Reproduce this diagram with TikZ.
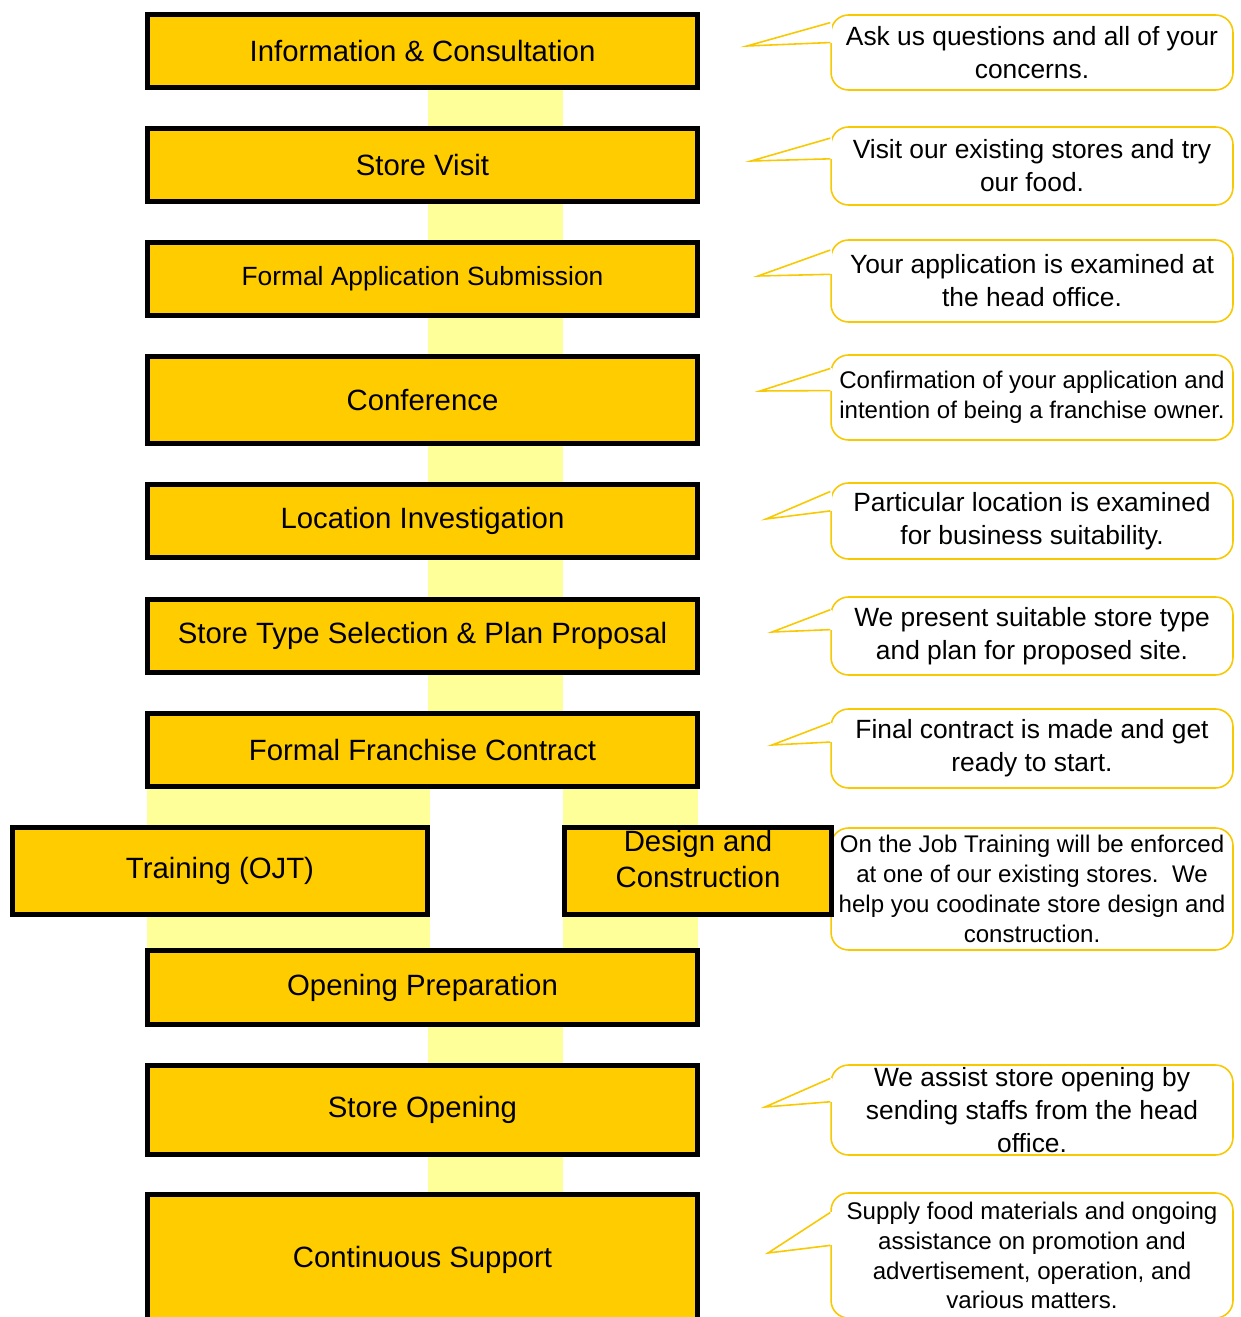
\documentclass[tikz,border=0pt]{standalone}
\usepackage{fontspec}
\setmainfont{Liberation Sans}
\usetikzlibrary{calc,backgrounds}

\definecolor{boxyellow}{HTML}{FFCC00}
\definecolor{barlemon}{HTML}{FFFF99}
\definecolor{notegold}{HTML}{F8C800}

% tail of a note: note name, tip coordinate, start and end (fraction of the left side)
\newcommand{\notetail}[4]{%
  \draw[white, line width=2pt] ($(#1.north west)!#3!(#1.south west)$) -- ($(#1.north west)!#4!(#1.south west)$);
  \draw[tailline] ($(#1.north west)!#3!(#1.south west)$) -- (#2) -- ($(#1.north west)!#4!(#1.south west)$);
}

\begin{document}
\begin{tikzpicture}[x=0.02cm, y=-0.02cm,
    stage/.style={draw, line width=0.1cm, fill=boxyellow, inner sep=0pt, align=center,
      minimum width=11cm, minimum height=1.46cm, font=\fontsize{16.7}{20.5}\selectfont},
    note/.style={draw=notegold, line width=0.9pt, fill=white, rounded corners=0.35cm, inner sep=0pt,
      align=center, minimum width=8.04cm, font=\fontsize{15}{18.7}\selectfont},
    small/.style={font=\fontsize{13.7}{17}\selectfont},
    bar/.style={barlemon, line width=2.7cm},
    tailline/.style={draw=notegold, line width=0.9pt, line join=miter}]
    \useasboundingbox (0,0) rectangle (1240,1317);

    % notes on the right
    \node[note, minimum height=1.5cm] (n1) at (1032,52.5) {Ask us questions and all of your\\concerns.};
    \node[note, minimum height=1.56cm] (n2) at (1032,166) {Visit our existing stores and try\\our food.};
    \node[note, minimum height=1.64cm] (n3) at (1032,281) {Your application is examined at\\the head office.};
    \node[note, small, minimum height=1.7cm] (n4) at (1032,397.5) {Confirmation of your application and\\intention of being a franchise owner.};
    \node[note, minimum height=1.52cm] (n5) at (1032,521) {Particular location is examined\\for business suitability.};
    \node[note, minimum height=1.56cm] (n6) at (1032,636) {We present suitable store type\\and plan for proposed site.};
    \node[note, minimum height=1.58cm] (n7) at (1032,748.5) {Final contract is made and get\\ready to start.};
    \node[note, small, minimum height=2.44cm] (n8) at (1032,889) {On the Job Training will be enforced\\at one of our existing stores.~~We\\help you coodinate store design and\\construction.};
    \node[note, minimum height=1.8cm] (n9) at (1032,1110) {We assist store opening by\\sending staffs from the head\\office.};
    \node[note, small, minimum height=2.5cm] (n10) at (1032,1255.5) {Supply food materials and ongoing\\assistance on promotion and\\advertisement, operation, and\\various matters.};

    % the steps
    \node[stage] (info) at (422.5,51) {Information \& Consultation};
    \node[stage] (visit) at (422.5,165) {Store Visit};
    \node[stage, font=\fontsize{15}{18}\selectfont] (apply) at (422.5,279) {Formal Application Submission};
    \node[stage, minimum height=1.74cm] (conf) at (422.5,400) {Conference};
    \node[stage] (loc) at (422.5,521) {Location Investigation};
    \node[stage] (select) at (422.5,636) {Store Type Selection \& Plan Proposal};
    \node[stage] (contract) at (422.5,750) {Formal Franchise Contract};
    \node[stage, minimum width=8.3cm, minimum height=1.74cm] (train) at (220,871) {Training (OJT)};
    \node[stage, minimum width=5.34cm, minimum height=1.74cm] (design) at (698,871) {Design and\\Construction\rule[-14pt]{0pt}{0pt}};
    \node[stage, minimum height=1.48cm] (prep) at (422.5,987.5) {Opening Preparation};
    \node[stage, minimum height=1.78cm] (open) at (422.5,1110) {Store Opening};
    \node[stage, minimum height=2.62cm] (support) at (422.5,1260) {Continuous Support};

    % bars behind the steps
    \begin{pgfonlayer}{background}
      \draw[bar] ($(info)+(73,0)$) -- ($(visit)+(73,0)$);
      \draw[bar] ($(visit)+(73,0)$) -- ($(apply)+(73,0)$);
      \draw[bar] ($(apply)+(73,0)$) -- ($(conf)+(73,0)$);
      \draw[bar] ($(conf)+(73,0)$) -- ($(loc)+(73,0)$);
      \draw[bar] ($(loc)+(73,0)$) -- ($(select)+(73,0)$);
      \draw[bar] ($(select)+(73,0)$) -- ($(contract)+(73,0)$);
      \draw[bar, line width=5.66cm] ($(contract)+(-134,0)$) -- ($(prep)+(-134,0)$);
      \draw[bar] ($(contract)+(208,0)$) -- ($(prep)+(208,0)$);
      \draw[bar] ($(prep)+(73,0)$) -- ($(open)+(73,0)$);
      \draw[bar] ($(open)+(73,0)$) -- ($(support)+(73,0)$);
    \end{pgfonlayer}

    % tails of the notes
    \coordinate (t1) at (747,46);
    \coordinate (t2) at (751,161);
    \coordinate (t3) at (758,276);
    \coordinate (t4) at (760,391);
    \coordinate (t5) at (766,519);
    \coordinate (t6) at (772,632);
    \coordinate (t7) at (772,745);
    \coordinate (t9) at (765,1107);
    \coordinate (t10) at (768,1253);
    \notetail{n1}{t1}{0.11}{0.37}
    \notetail{n2}{t2}{0.15}{0.41}
    \notetail{n3}{t3}{0.13}{0.42}
    \notetail{n4}{t4}{0.165}{0.42}
    \notetail{n5}{t5}{0.12}{0.37}
    \notetail{n6}{t6}{0.17}{0.42}
    \notetail{n7}{t7}{0.18}{0.42}
    \notetail{n9}{t9}{0.155}{0.41}
    \notetail{n10}{t10}{0.16}{0.42}
\end{tikzpicture}
\end{document}
